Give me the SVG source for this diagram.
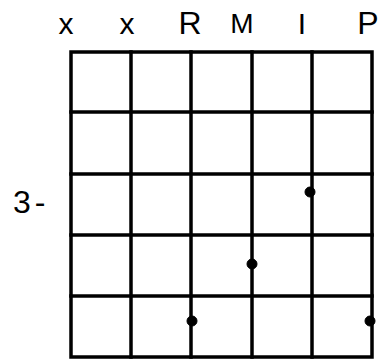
<svg xmlns="http://www.w3.org/2000/svg" width="379" height="360" viewBox="0 0 379 360">
<style>
.g{stroke:#000;stroke-width:3.5;fill:none;stroke-linecap:square}
.lbl{font-family:"Liberation Sans",Arial,sans-serif;fill:#000;text-anchor:middle}
.dot{fill:#000;stroke:#000;stroke-width:1}
</style>
<rect width="379" height="360" fill="#fff"/>
<g id="grid" class="g">
<rect x="71" y="52" width="301" height="305"/>
<line x1="131" y1="52" x2="131" y2="357"/>
<line x1="191" y1="52" x2="191" y2="357"/>
<line x1="252" y1="52" x2="252" y2="357"/>
<line x1="312" y1="52" x2="312" y2="357"/>
<line x1="71" y1="112" x2="372" y2="112"/>
<line x1="71" y1="174" x2="372" y2="174"/>
<line x1="71" y1="235" x2="372" y2="235"/>
<line x1="71" y1="296" x2="372" y2="296"/>
</g>
<g id="labels">
<text class="lbl" x="66" y="34" font-size="30">x</text>
<text class="lbl" x="127" y="34" font-size="30">x</text>
<text class="lbl" x="190" y="34" font-size="32">R</text>
<text class="lbl" x="242" y="33" font-size="28">M</text>
<text class="lbl" x="302" y="34" font-size="30">I</text>
<text class="lbl" x="368" y="34" font-size="32">P</text>
<text class="lbl" x="13" y="213" font-size="32" letter-spacing="4" style="text-anchor:start">3-</text>
</g>
<g id="dots">
<circle class="dot" cx="310" cy="192" r="5"/>
<circle class="dot" cx="252" cy="264" r="5"/>
<circle class="dot" cx="192" cy="321" r="5"/>
<circle class="dot" cx="370" cy="321" r="5"/>
</g>
</svg>
